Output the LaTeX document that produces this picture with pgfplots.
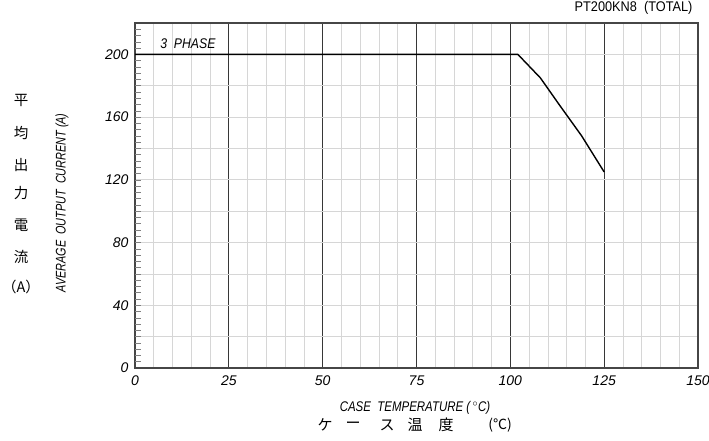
\documentclass[border=0pt]{standalone}
\usepackage{fontspec}
\usepackage{pgfplots}
\pgfplotsset{compat=1.18}
\setmainfont{Liberation Sans}
\newfontfamily\cad[FakeStretch=0.82]{Liberation Sans}
\newfontfamily\cadw[FakeStretch=0.91]{Liberation Sans}
\newfontfamily\cadn[FakeStretch=0.775]{Liberation Sans}
\newfontfamily\cadp[FakeStretch=0.875]{Liberation Sans}
\newfontfamily\cjk{Noto Sans CJK JP}
\definecolor{minorgrid}{RGB}{214,214,214}
\definecolor{majorgrid}{RGB}{55,55,55}
\definecolor{frame}{RGB}{70,70,70}
\begin{document}
\begin{tikzpicture}[x=1pt,y=1pt]
  \useasboundingbox (0,0) rectangle (709,441);
  \begin{axis}[
      at={(135pt,73pt)}, anchor=south west,
      width=563pt, height=345pt, scale only axis,
      xmin=0, xmax=150, ymin=0, ymax=220,
      axis line style={frame, line width=1.4pt},
      xtick={0,25,...,150},
      minor xtick={5,10,15,20,30,35,40,45,55,60,65,70,80,85,90,95,105,110,115,120,130,135,140,145},
      ytick={0,40,...,200},
      minor ytick={20,60,100,140,180,220},
      xmajorgrids, xminorgrids, ymajorgrids, yminorgrids,
      major x grid style={majorgrid, line width=1.2pt},
      minor x grid style={minorgrid, line width=0.7pt},
      major y grid style={minorgrid, line width=0.7pt},
      minor y grid style={minorgrid, line width=0.7pt},
      major tick length=0pt, minor tick length=0pt,
      xtick pos=bottom, ytick pos=left,
      extra y ticks={4,8,...,216},
      extra y tick labels={},
      extra y tick style={grid=none, major tick length=6pt, tick align=inside,
        tick style={gray, line width=0.6pt}},
      /pgf/number format/assume math mode=true,
      ticklabel style={font=\itshape\fontsize{14}{15}\selectfont},
      xticklabel style={yshift=-4pt},
      yticklabel style={xshift=-3pt},
      clip=false,
    ]
    \addplot[black, line width=1.4pt] coordinates {
      (0,200) (102,200) (108,185) (113,168) (119,148) (125,125)
    };
    \node[anchor=west, font=\cadp\itshape\fontsize{14}{15}\selectfont] at (axis cs:5.8,207) {3\ \ PHASE};
  \end{axis}
  \node[anchor=east, font=\cadw\fontsize{14}{15}\selectfont] at (696,433) {PT200KN8\ \ (TOTAL)};
  \node[font=\cad\itshape\fontsize{14}{15}\selectfont] at (415,33) {CASE\ \ TEMPERATURE\ (\,\textsuperscript{$\circ$}C)};
  \foreach \c/\xx in {ケ/325, ー/353, ス/387, 温/415, 度/446}
    \node[font=\cjk\fontsize{15}{16}\selectfont] at (\xx,16) {\c};
  \node[font=\cjk\fontsize{14}{15}\selectfont] at (500,16) {(℃)};
  \node[rotate=90, font=\cadn\itshape\fontsize{14}{15}\selectfont] at (62,238) {AVERAGE\ \ OUTPUT\ \ CURRENT\ (A)};
  \foreach \c/\yy in {平/341, 均/308, 出/276, 力/248, 電/216, 流/184}
    \node[font=\cjk\fontsize{14.5}{15}\selectfont] at (21,\yy) {\c};
  \node[font=\cjk\fontsize{14.5}{15}\selectfont] at (21,154) {（A）};
\end{tikzpicture}
\end{document}
